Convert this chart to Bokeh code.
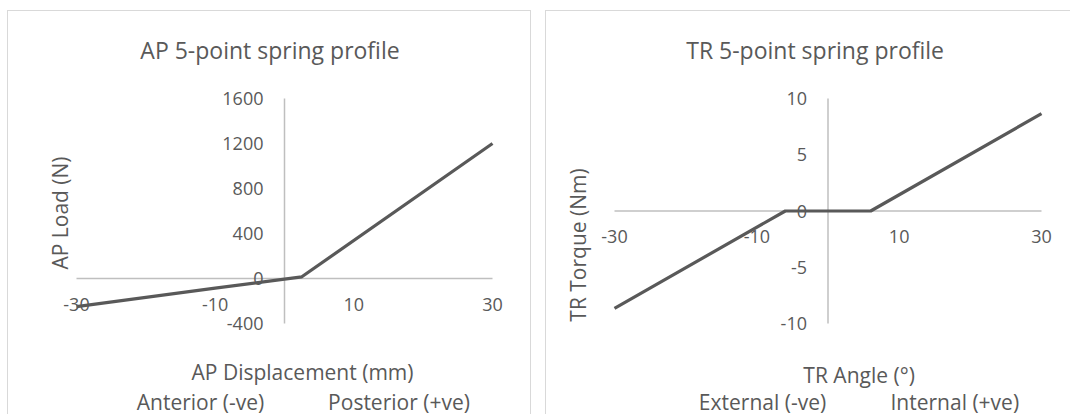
import math
from bokeh.plotting import figure
from bokeh.layouts import row
from bokeh.models import LinearAxis, FixedTicker, Label, PrintfTickFormatter, Range1d
from bokeh.embed import file_html
from bokeh.resources import INLINE

# ---- data ----
ap_disp = [-30, -10, 0, 2.5, 30]
ap_load = [-250, -85, -5, 15, 1200]
ap_xticks = [-30, -10, 10, 30]
ap_yticks = [-400, 0, 400, 800, 1200, 1600]

tr_angle = [-30, -6, 0, 6, 30]
tr_torque = [-8.65, 0, 0, 0, 8.65]
tr_xticks = [-30, -10, 10, 30]
tr_yticks = [-10, -5, 0, 5, 10]

FONT = "Open Sans"
TXT = "#595959"
AXC = "#bfbfbf"
H = 404


def make_panel(xs, ys, xticks, yticks, width, box, texts, borders):
    # box: pixel box (left, right, top, bottom) of the plotted data region
    bl, br, bt, bb = box
    x0, x1 = min(xticks), max(xticks)
    y0, y1 = min(yticks), max(yticks)
    kx = (br - bl) / (x1 - x0)
    ky = (bb - bt) / (y1 - y0)
    xr = Range1d(x0 - bl / kx, x1 + (width - br) / kx)
    yr = Range1d(y0 - (H - bb) / ky, y1 + bt / ky)

    p = figure(width=width, height=H, x_range=xr, y_range=yr,
               x_axis_location=None, y_axis_location=None,
               toolbar_location=None, output_backend="svg",
               min_border=0)
    p.outline_line_color = None
    for g in p.grid:
        g.visible = False
    p.background_fill_color = "white"
    p.border_fill_color = "white"

    # axis lines crossing at zero, spanning the tick extents
    p.segment(x0=[x0, 0], y0=[0, y0], x1=[x1, 0], y1=[0, y1],
              line_color=AXC, line_width=1.5, level="underlay")

    common = dict(fixed_location=0, axis_line_color=None,
                  major_tick_line_color=None, minor_tick_line_color=None,
                  major_tick_in=0, major_tick_out=0,
                  formatter=PrintfTickFormatter(format="%d"),
                  major_label_text_font=FONT, major_label_text_font_size="18px",
                  major_label_text_color=TXT)
    xa = LinearAxis(ticker=FixedTicker(ticks=xticks, minor_ticks=[]),
                    major_label_standoff=19, **common)
    ya = LinearAxis(ticker=FixedTicker(ticks=yticks, minor_ticks=[]),
                    major_label_standoff=21, **common)
    p.add_layout(xa, "below")
    p.add_layout(ya, "left")

    p.line(xs, ys, line_color="#595959", line_width=3.2, level="overlay")

    for text, x, y, size, vertical in texts:
        p.add_layout(Label(x=x, y=y, x_units="screen", y_units="screen",
                           text=text, text_align="center", text_baseline="middle",
                           text_font=FONT, text_font_size=size, text_color=TXT,
                           angle=(math.pi / 2 if vertical else 0.0)))
    p.styles = borders
    return p


p1 = make_panel(ap_disp, ap_load, ap_xticks, ap_yticks, 524, (68, 484, 87, 312),
                [("AP 5-point spring profile", 261.5, 366, "23px", False),
                 ("AP Load (N)", 51, 202.5, "21px", True),
                 ("AP Displacement (mm)", 294, 44, "21px", False),
                 ("Anterior (-ve)", 192, 14, "21px", False),
                 ("Posterior (+ve)", 390.5, 14, "21px", False)],
                {"border-top": "1px solid #d9d9d9", "border-left": "1px solid #d9d9d9",
                 "border-right": "1px solid #d9d9d9"})
p2 = make_panel(tr_angle, tr_torque, tr_xticks, tr_yticks, 525, (68, 495, 87, 312),
                [("TR 5-point spring profile", 268.6, 366, "23px", False),
                 ("TR Torque (Nm)", 31.5, 170.5, "21px", True),
                 ("TR Angle (°)", 312.6, 41, "21px", False),
                 ("External (-ve)", 216, 14, "21px", False),
                 ("Internal (+ve)", 408.3, 14, "21px", False)],
                {"border-top": "1px solid #d9d9d9", "border-left": "1px solid #d9d9d9"})
p1.margin = (10, 0, 0, 7)
p2.margin = (10, 0, 0, 14)

layout = row(p1, p2)
layout.margin = 0
layout.spacing = 0

open("out.html", "w").write(file_html(layout, INLINE))
